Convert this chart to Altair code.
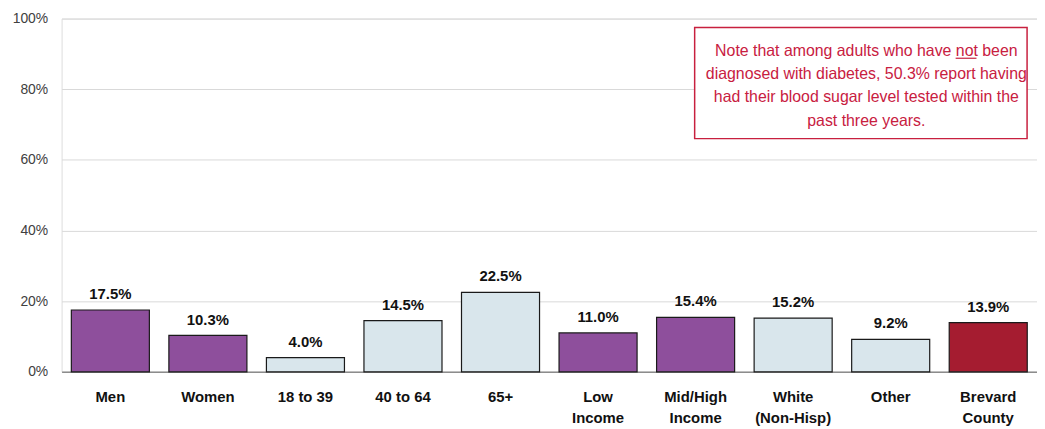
import altair as alt
import pandas as pd

categories = ["Men", "Women", "18 to 39", "40 to 64", "65+", "Low\nIncome",
              "Mid/High\nIncome", "White\n(Non-Hisp)", "Other", "Brevard\nCounty"]
values = [17.5, 10.3, 4.0, 14.5, 22.5, 11.0, 15.4, 15.2, 9.2, 13.9]
groups = ["purple", "purple", "blue", "blue", "blue", "purple", "purple", "blue", "blue", "red"]
note = ("Note that among adults who have not been\n"
        "diagnosed with diabetes, 50.3% report having\n"
        "had their blood sugar level tested within the\n"
        "past three years.")

df = pd.DataFrame({"cat": categories, "val": values, "grp": groups})
df["label"] = df["val"].map(lambda v: f"{v:.1f}%")

FONT = "Liberation Sans"
W, H = 983, 356

x = alt.X("cat:N", sort=categories, title=None,
          scale=alt.Scale(paddingInner=0.2, paddingOuter=0.1),
          axis=alt.Axis(labelAngle=0, labelFont=FONT, labelFontSize=15, labelFontWeight="bold",
                        labelColor="#111111", labelPadding=25, labelLineHeight=21,
                        labelExpr="split(datum.label, '\\n')", ticks=False,
                        domainColor="#8c8c8c", domainWidth=1.5, labelBaseline="middle"))
y = alt.Y("val:Q", title=None,
          scale=alt.Scale(domain=[0, 100]),
          axis=alt.Axis(values=[0, 20, 40, 60, 80, 100], labelExpr="datum.value + '%'",
                        labelFont=FONT, labelFontSize=14, labelColor="#404040",
                        ticks=False, domain=False, gridColor="#d9d9d9", labelPadding=14))

base = alt.Chart(df)
bars = base.mark_bar(stroke="#1a1a1a", strokeWidth=1.2).encode(
    x=x, y=y,
    color=alt.Color("grp:N", scale=alt.Scale(domain=["purple", "blue", "red"],
                                             range=["#8E4F9C", "#D9E6EC", "#A51C30"]), legend=None))
labels = base.mark_text(dy=-16, font=FONT, fontSize=15, fontWeight="bold", color="#111111").encode(
    x=alt.X("cat:N", sort=categories), y="val:Q", text="label:N")

box = alt.Chart(pd.DataFrame({"a": [0]})).mark_rect(fill="white", stroke="#C8203F", strokeWidth=1.5).encode(
    x=alt.value(638), x2=alt.value(973), y=alt.value(9), y2=alt.value(121))
note_text = alt.Chart(pd.DataFrame({"t": [note]})).mark_text(
    font=FONT, fontSize=16, color="#C8203F", lineBreak="\n", lineHeight=23.5,
    align="center", baseline="alphabetic").encode(
    x=alt.value(811), y=alt.value(37.5), text="t:N")
underline = alt.Chart(pd.DataFrame({"a": [0]})).mark_rule(color="#C8203F", strokeWidth=1.2).encode(
    x=alt.value(901), x2=alt.value(922), y=alt.value(40))

chart = alt.layer(bars, labels, box, note_text, underline).properties(
    width=W, height=H,
    autosize=alt.AutoSizeParams(type="none"),
    padding={"left": 54, "top": 9, "right": 0, "bottom": 56},
).configure_view(stroke=None).configure(background="white")

chart.save("out.html", embed_options={"renderer": "svg", "actions": False})
